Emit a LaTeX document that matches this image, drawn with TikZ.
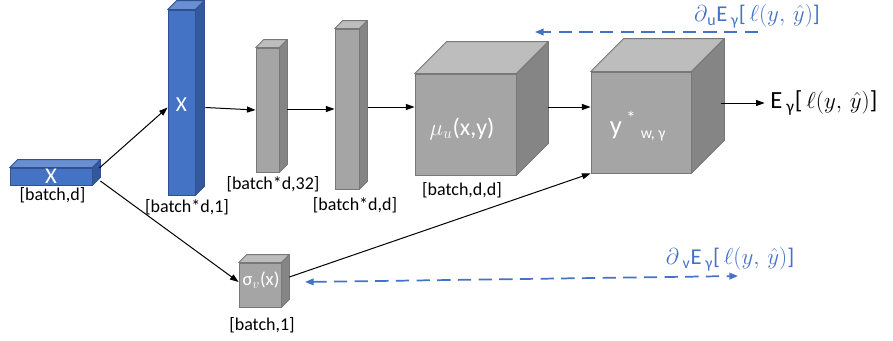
\documentclass[tikz,border=0pt]{standalone}
\usepackage{fontspec}
\setmainfont{Carlito}
\usetikzlibrary{arrows.meta,calc}
\definecolor{bfront}{HTML}{4472C4}
\definecolor{btop}{HTML}{6A8ED2}
\definecolor{bside}{HTML}{34589C}
\definecolor{bedge}{HTML}{2F528F}
\definecolor{gfront}{HTML}{A5A5A5}
\definecolor{gtop}{HTML}{BDBDBD}
\definecolor{gside}{HTML}{858585}
\definecolor{gedge}{HTML}{787878}
\definecolor{gradblue}{HTML}{4472C4}
\newcommand\boxfaces[5]{%
  \filldraw[fill=#3,draw=#5,line width=0.6pt,line join=round]
    (#1.north west) -- ($(#1.north west)+(#2,-#2)$) -- ($(#1.north east)+(#2,-#2)$) -- (#1.north east) -- cycle;
  \filldraw[fill=#4,draw=#5,line width=0.6pt,line join=round]
    (#1.north east) -- ($(#1.north east)+(#2,-#2)$) -- ($(#1.south east)+(#2,-#2)$) -- (#1.south east) -- cycle;
}
\newcommand\lossexpr{$\ell(y,\,\hat{y})$}
\tikzset{
  bluebox/.style={rectangle, fill=bfront, draw=bedge, line width=0.6pt, inner sep=0pt, text=white},
  graybox/.style={rectangle, fill=gfront, draw=gedge, line width=0.6pt, inner sep=0pt, text=white},
  dimlabel/.style={font=\fontsize{13.5}{15}\selectfont, text=black, inner sep=0pt},
  conn/.style={-{Triangle[length=6.5pt,width=4.5pt]}, line width=0.75pt, black},
  grad/.style={dash pattern=on 10pt off 5.5pt, line width=1.3pt, draw=gradblue},
  gradlabel/.style={font=\fontsize{17}{18}\selectfont, text=gradblue, inner sep=0pt},
}
\begin{document}
\begin{tikzpicture}[x=0.75pt,y=-0.75pt]
\useasboundingbox (0,0) rectangle (893,340);
% boxes
\node[bluebox, minimum width=61.5pt, minimum height=12.75pt, font=\fontsize{17}{17}\selectfont] (b1) at (51,176.5) {X};
\boxfaces{b1}{8}{btop}{bside}{bedge}
\node[bluebox, minimum width=20.25pt, minimum height=138.75pt] (b2) at (181.5,102.5) {};
\boxfaces{b2}{9}{btop}{bside}{bedge}
\node[text=white, font=\fontsize{16}{16}\selectfont, inner sep=0pt] (b2t) at (181.5,105) {X};
\node[graybox, minimum width=17.25pt, minimum height=93pt] (b3) at (267.5,110) {};
\boxfaces{b3}{8}{gtop}{gside}{gedge}
\node[graybox, minimum width=18pt, minimum height=120pt] (b4) at (347,109) {};
\boxfaces{b4}{8}{gtop}{gside}{gedge}
\node[graybox, minimum width=75.75pt, minimum height=75.75pt] (b5) at (465.5,124.5) {};
\boxfaces{b5}{32}{gtop}{gside}{gedge}
\node[text=white, font=\fontsize{18}{18}\selectfont, inner sep=0pt] (b5t) at (462,129) {$\mu_u$(x,y)};
\node[graybox, minimum width=75pt, minimum height=75.75pt] (b6) at (641,122.5) {};
\boxfaces{b6}{33}{gtop}{gside}{gedge}
\node[text=white, font=\fontsize{20}{20}\selectfont, inner sep=0pt] (b6t) at (638,126) {y\,\textsuperscript{*}\,{\fontsize{17}{17}\selectfont\textsubscript{w, γ}}};
\node[graybox, minimum width=31.5pt, minimum height=33pt] (sig) at (260,285) {};
\boxfaces{sig}{8}{gtop}{gside}{gedge}
\node[text=white, font=\fontsize{14}{14}\selectfont, inner sep=0pt] (sigt) at (261,280) {σ$_v$(x)};
% dimension labels
\node[dimlabel] (l1) at (52.5,195) {[batch,d]};
\node[dimlabel] (l2) at (187,207) {[batch*d,1]};
\node[dimlabel] (l3) at (273,184) {[batch*d,32]};
\node[dimlabel] (l4) at (355,205) {[batch*d,d]};
\node[dimlabel] (l5) at (462,190) {[batch,d,d]};
\node[dimlabel] (l6) at (262,325) {[batch,1]};
% output
\node[anchor=west, inner sep=0pt, font=\fontsize{18.5}{20}\selectfont] (out) at (770,103) {E\,\textsubscript{γ}[\,\lossexpr]};
% connectors
\draw[conn] ([shift={(7,-8.5)}]b1.east) -- ([shift={(0,5)}]b2.west);
\draw[conn] ([shift={(8,4.5)}]b1.east) -- ([shift={(0,-3)}]sig.west);
\draw[conn] ([shift={(10,5)}]b2.east) -- (b3.west);
\draw[conn] ([shift={(8,-1)}]b3.east) -- (b4.west);
\draw[conn] ([shift={(9,-2)}]b4.east) -- ([shift={(0,-17.5)}]b5.west);
\draw[conn] ([shift={(32,-17.5)}]b5.east) -- ([shift={(0,-15.5)}]b6.west);
\draw[conn] ([shift={(8,-8)}]sig.east) -- (b6.south west);
\draw[conn] ([shift={(30,-19.5)}]b6.east) -- ([xshift=-4pt]out.west);
% gradient arrows
\node[gradlabel] (gu) at (757,16) {$\partial$\textsubscript{u}E\,\textsubscript{γ}[\,\lossexpr]};
\coordinate (gua) at (758,32);
\coordinate (gub) at (535,32);
\draw[grad, -{Triangle[length=6.5pt,width=5pt]}] (gua) -- (gub);
\node[gradlabel] (gv) at (730,259) {$\partial$\,\textsubscript{v}E\,\textsubscript{γ}[\,\lossexpr]};
\coordinate (gva) at (305,282);
\coordinate (gvb) at (738,276);
\draw[grad, {Triangle[length=6.5pt,width=5pt]}-{Triangle[length=6.5pt,width=5pt]}] (gva) -- (gvb);
\end{tikzpicture}
\end{document}
